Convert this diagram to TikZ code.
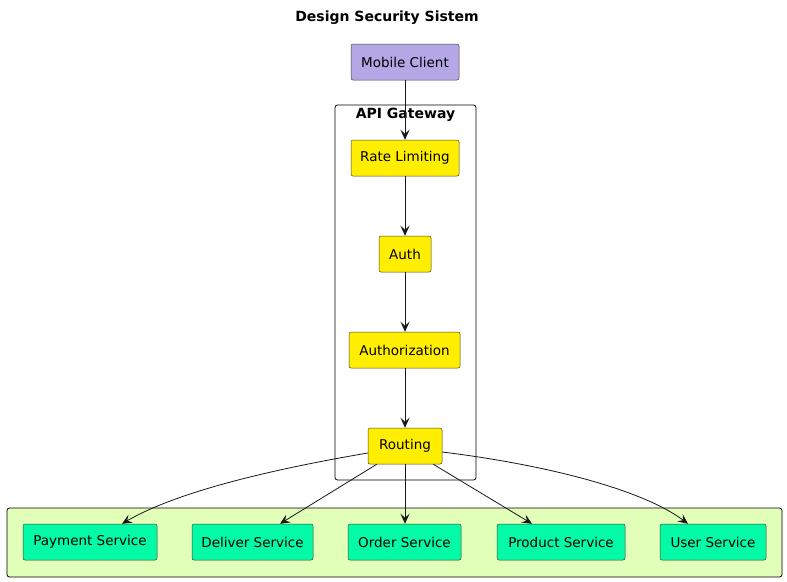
\documentclass[tikz,border=0pt]{standalone}
\usepackage{fontspec}
\setmainfont{DejaVu Sans}
\usetikzlibrary{arrows.meta}
\definecolor{purplebox}{HTML}{B4A7E5}
\definecolor{yellowbox}{HTML}{FFEE00}
\definecolor{greenbox}{HTML}{03FAA6}
\definecolor{pkgfill}{HTML}{E2FFBA}
\definecolor{edge}{HTML}{181818}
\definecolor{boxborder}{HTML}{5E5E3A}
\tikzset{
  box/.style={draw=boxborder!70!black, line width=0.5pt, rounded corners=2pt, minimum height=36pt, inner sep=0pt, font=\fontsize{13.5}{16}\selectfont},
  client/.style={box, fill=purplebox},
  gate/.style={box, fill=yellowbox},
  svc/.style={box, fill=greenbox},
  frame/.style={draw=black, line width=0.8pt, rounded corners=2.5pt},
  arr/.style={draw=edge, line width=0.8pt, -{Stealth[length=10pt,width=9pt,inset=4pt]}},
}
\begin{document}
\begin{tikzpicture}[x=1pt,y=-1pt]
\useasboundingbox (0,0) rectangle (787,581);
\node[font=\bfseries\fontsize{14}{16}\selectfont] (title) at (387,18) {Design Security Sistem};
% frames
\draw[frame] (335,105) rectangle (476,480);
\node[font=\bfseries\fontsize{14}{16}\selectfont] (gwlabel) at (405.5,115) {API Gateway};
\draw[frame, fill=pkgfill] (7,508) rectangle (782,577);
% nodes
\node[client, minimum width=108pt] (mobile) at (405,62) {Mobile Client};
\node[gate, minimum width=108pt] (rate) at (405,158) {Rate Limiting};
\node[gate, minimum width=52pt] (auth) at (405,254) {Auth};
\node[gate, minimum width=111pt] (authz) at (404.5,350) {Authorization};
\node[gate, minimum width=74pt] (routing) at (405,446) {Routing};
\node[svc, minimum width=134pt] (payment) at (90,542) {Payment Service};
\node[svc, minimum width=121pt] (deliver) at (252.5,542) {Deliver Service};
\node[svc, minimum width=113pt] (order) at (404.5,542) {Order Service};
\node[svc, minimum width=128pt] (product) at (561,542) {Product Service};
\node[svc, minimum width=106pt] (user) at (713,542) {User Service};
% edges
\draw[arr] (mobile.south) -- (rate.north);
\draw[arr] (rate.south) -- (auth.north);
\draw[arr] (auth.south) -- (authz.north -| auth.south);
\draw[arr] (authz.south -| auth.south) -- (routing.north);
\draw[arr] (routing.south) -- (order.north -| routing.south);
\draw[arr] ([xshift=9pt]routing.south west) -- ([xshift=27.5pt]deliver.north);
\draw[arr] ([xshift=-9pt]routing.south east) -- ([xshift=-29pt]product.north);
\draw[arr] ([yshift=-7pt]routing.west) .. controls (280,468) and (180,490) .. ([xshift=32pt]payment.north);
\draw[arr] ([yshift=-6pt]routing.east) .. controls (540,464) and (640,488) .. ([xshift=-25pt]user.north);
\end{tikzpicture}
\end{document}
